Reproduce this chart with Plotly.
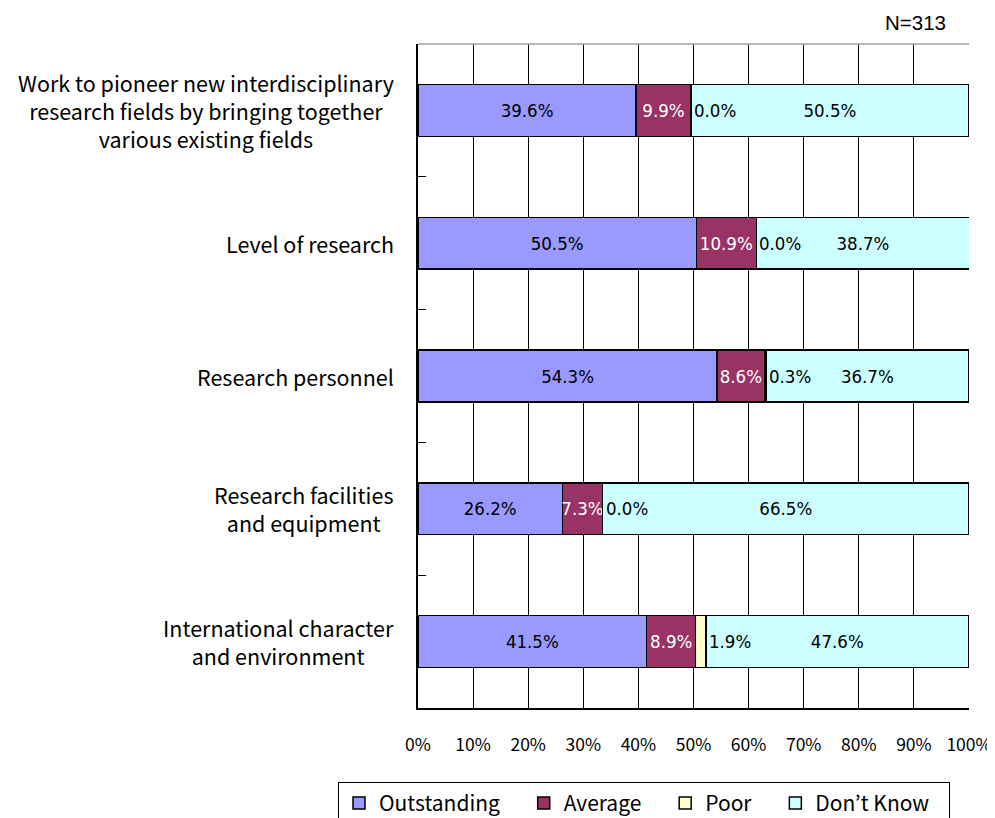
import plotly.graph_objects as go

categories = [
    "Work to pioneer new interdisciplinary<br>research fields by bringing together<br>various existing fields",
    "Level of research",
    "Research personnel",
    "Research facilities<br>and equipment",
    "International character<br>and environment",
]
outstanding = [39.6, 50.5, 54.3, 26.2, 41.5]
average = [9.9, 10.9, 8.6, 7.3, 8.9]
poor = [0.0, 0.0, 0.3, 0.0, 1.9]
dont_know = [50.5, 38.7, 36.7, 66.5, 47.6]
series_names = ["Outstanding", "Average", "Poor", "Don’t Know"]
x_ticks = [0, 10, 20, 30, 40, 50, 60, 70, 80, 90, 100]
x_tick_labels = [f"{v}%" for v in x_ticks]
n_label = "N=313"

colors = ["#9999FF", "#993366", "#FFFFCC", "#CCFFFF"]
text_colors = ["black", "white", "black", "black"]
gothic = "Noto Sans CJK JP, Noto Sans, sans-serif"
narrow = "Liberation Sans Narrow, DejaVu Sans Condensed, Liberation Sans, Arial, sans-serif"
pad = "\u00a0" * 4
end_pad = "\u00a0" * 3

ypos = list(range(len(categories)))
fig = go.Figure()
all_series = [outstanding, average, poor, dont_know]
for k, (name, vals, col, tcol) in enumerate(zip(series_names, all_series, colors, text_colors)):
    show_text = name != "Poor"
    fig.add_trace(go.Bar(
        name=name + (pad if k < len(series_names) - 1 else end_pad),
        y=ypos,
        x=vals,
        orientation="h",
        marker=dict(color=col, line=dict(color="black", width=1.5)),
        width=0.39,
        text=[f"{v:.1f}%" for v in vals] if show_text else None,
        textposition="inside" if show_text else "none",
        insidetextanchor="middle",
        textangle=0,
        constraintext="none",
        textfont=dict(family=narrow, size=18.5, color=tcol),
        hoverinfo="skip",
    ))

annotations = []
# Poor labels placed just right of the poor segment
for i in ypos:
    end = outstanding[i] + average[i] + poor[i]
    annotations.append(dict(
        x=end, y=i, xref="x", yref="y", text=f"{poor[i]:.1f}%",
        showarrow=False, xanchor="left", yanchor="middle", xshift=1,
        font=dict(family=narrow, size=18.5, color="black"),
    ))
# Category labels
for i, cat in enumerate(categories):
    annotations.append(dict(
        x=-0.040, y=i, xref="paper", yref="y", text=cat,
        showarrow=False, xanchor="right", yanchor="middle", align="center",
        font=dict(family=gothic, size=21.5, color="black"),
    ))
annotations.append(dict(
    x=0.962, y=1, xref="paper", yref="paper", text=n_label,
    showarrow=False, xanchor="right", yanchor="middle", yshift=22,
    font=dict(family="Liberation Sans, Arial, sans-serif", size=20.5, color="black"),
))

# The page body adds an 8px offset, so the figure is sized 8px smaller on left/top.
fig.update_layout(
    barmode="stack",
    width=987, height=810,
    margin=dict(l=410, r=26, t=36, b=110, autoexpand=False),
    paper_bgcolor="white", plot_bgcolor="white",
    showlegend=True,
    legend=dict(
        orientation="h", x=-0.1452, xanchor="left", y=-0.1114, yanchor="top",
        bgcolor="white", bordercolor="black", borderwidth=1,
        font=dict(family=gothic, size=21, color="black"),
        traceorder="normal",
    ),
    xaxis=dict(
        range=[0, 100], tickvals=x_ticks, ticktext=x_tick_labels,
        showgrid=True, gridcolor="black", gridwidth=1,
        showline=True, linecolor="black", linewidth=1.5,
        ticks="", zeroline=False,
        tickfont=dict(family=gothic, size=17.5, color="black"),
        ticklabelstandoff=20,
    ),
    yaxis=dict(
        range=[4.5, -0.5], tickvals=[-0.5, 0.5, 1.5, 2.5, 3.5, 4.5],
        showticklabels=False, ticks="inside", ticklen=8, tickcolor="black",
        tickwidth=1, showgrid=False, zeroline=False,
        showline=True, linecolor="black", linewidth=1.5,
    ),
    annotations=annotations,
    shapes=[dict(type="line", xref="paper", yref="paper", x0=0, x1=1, y0=1, y1=1,
                 line=dict(color="#A0A0A0", width=1.5))],
)

fig.write_html("out.html")
